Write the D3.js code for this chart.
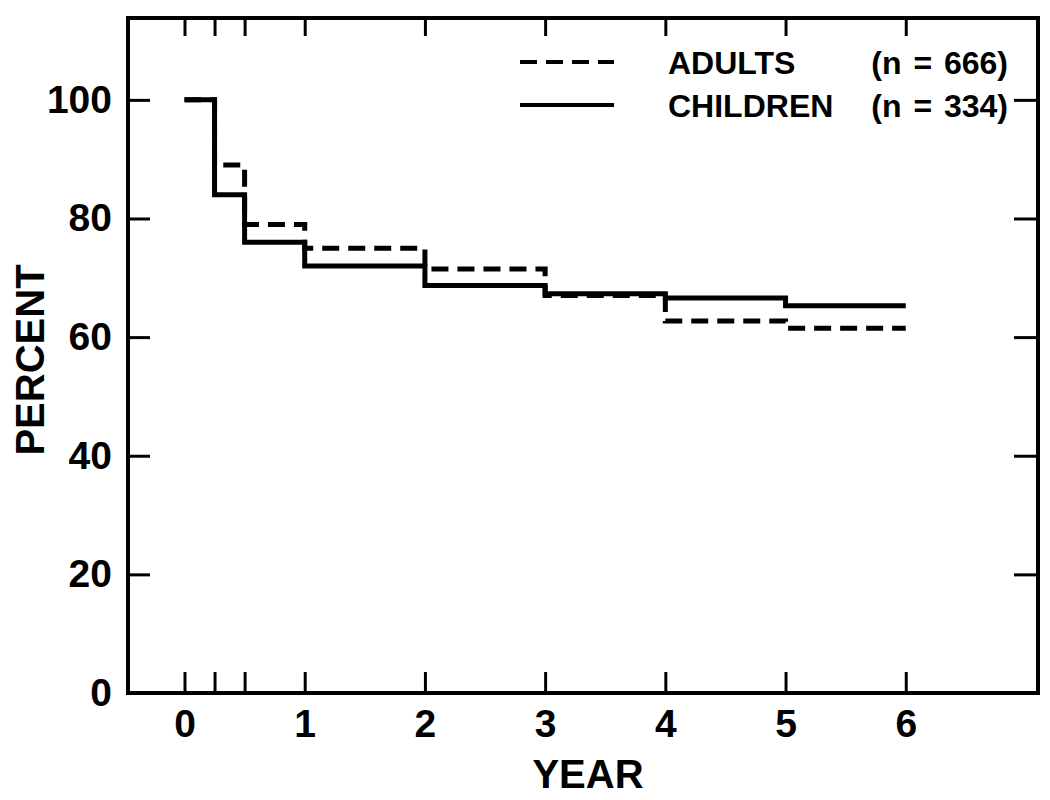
<!DOCTYPE html>
<html>
<head>
<meta charset="utf-8">
<script src="https://cdn.jsdelivr.net/npm/d3@7"></script>
<style>
  body { margin: 0; background: #fff; }
  text { font-family: "Liberation Sans", Arial, sans-serif; fill: #000; }
</style>
</head>
<body>
<div id="container"></div>
<script>
// data
const years = [0, 0.25, 0.5, 1, 2, 3, 4, 5, 6];
const adults = [100, 89, 79, 75, 71.5, 67, 62.7, 61.5, 61.5];
const children = [100, 84, 76, 72, 68.7, 67.3, 66.6, 65.3, 65.3];
const xTicks = [0, 0.25, 0.5, 1, 2, 3, 4, 5, 6];
const xLabels = [0, 1, 2, 3, 4, 5, 6];
const yTicks = [0, 20, 40, 60, 80, 100];
const legendNames = ["ADULTS", "CHILDREN"];
const legendN = ["(n = 666)", "(n = 334)"];

const width = 1050, height = 800;
const plot = { left: 128, right: 1038, top: 18, bottom: 693 };

const svg = d3.create("svg")
  .attr("width", width)
  .attr("height", height);
container.append(svg.node());

const x = d3.scaleLinear().domain([-0.47, 7.1]).range([plot.left, plot.right]);
const y = d3.scaleLinear().domain([0, 113.8]).range([plot.bottom, plot.top]);

// inward ticks on all four sides
const styleAxis = g => {
  g.select(".domain").remove();
  g.selectAll(".tick line").attr("stroke", "#000").attr("stroke-width", 3);
  g.selectAll(".tick text")
    .style("font-size", "39px")
    .style("font-weight", "bold");
};

svg.append("g")
  .attr("transform", `translate(0,${plot.bottom})`)
  .call(d3.axisBottom(x).tickValues(xTicks).tickSizeInner(-21).tickSizeOuter(0).tickPadding(16)
    .tickFormat(d => xLabels.includes(d) ? d : ""))
  .call(styleAxis);

svg.append("g")
  .attr("transform", `translate(0,${plot.top})`)
  .call(d3.axisTop(x).tickValues(xTicks).tickSizeInner(-18).tickSizeOuter(0).tickFormat(""))
  .call(styleAxis);

svg.append("g")
  .attr("transform", `translate(${plot.left},0)`)
  .call(d3.axisLeft(y).tickValues(yTicks).tickSizeInner(-22).tickSizeOuter(0).tickPadding(16))
  .call(styleAxis);

svg.append("g")
  .attr("transform", `translate(${plot.right},0)`)
  .call(d3.axisRight(y).tickValues(yTicks).tickSizeInner(-24).tickSizeOuter(0).tickFormat(""))
  .call(styleAxis);

// frame
svg.append("rect")
  .attr("x", plot.left)
  .attr("y", plot.top)
  .attr("width", plot.right - plot.left)
  .attr("height", plot.bottom - plot.top)
  .attr("fill", "none")
  .attr("stroke", "#000")
  .attr("stroke-width", 4);

// step curves
const line = d3.line()
  .x((d, i) => x(years[i]))
  .y(d => y(d))
  .curve(d3.curveStepAfter);

svg.append("path")
  .datum(children)
  .attr("d", line)
  .attr("fill", "none")
  .attr("stroke", "#000")
  .attr("stroke-width", 5);

svg.append("path")
  .datum(adults)
  .attr("d", line)
  .attr("fill", "none")
  .attr("stroke", "#000")
  .attr("stroke-width", 5)
  .attr("stroke-dasharray", "17,9");

// legend
const legend = svg.append("g");
legendNames.forEach((name, i) => {
  const ly = 62 + i * 43;
  legend.append("line")
    .attr("x1", 520).attr("x2", 614)
    .attr("y1", ly).attr("y2", ly)
    .attr("stroke", "#000")
    .attr("stroke-width", 4)
    .attr("stroke-dasharray", i === 0 ? "17,9" : null);
  legend.append("text")
    .attr("x", 668).attr("y", ly)
    .attr("dy", "0.36em")
    .style("font-size", "32px")
    .style("font-weight", "bold")
    .text(name);
  legend.append("text")
    .attr("x", 1008).attr("y", ly)
    .attr("dy", "0.36em")
    .attr("text-anchor", "end")
    .style("font-size", "32px")
    .style("font-weight", "bold")
    .style("word-spacing", "3px")
    .text(legendN[i]);
});

// axis titles
svg.append("text")
  .attr("x", 588).attr("y", 774)
  .attr("dy", "0.36em")
  .attr("text-anchor", "middle")
  .style("font-size", "40px")
  .style("font-weight", "bold")
  .text("YEAR");

svg.append("text")
  .attr("transform", "translate(30,360) rotate(-90)")
  .attr("dy", "0.36em")
  .attr("text-anchor", "middle")
  .style("font-size", "40px")
  .style("font-weight", "bold")
  .text("PERCENT");
</script>
</body>
</html>
